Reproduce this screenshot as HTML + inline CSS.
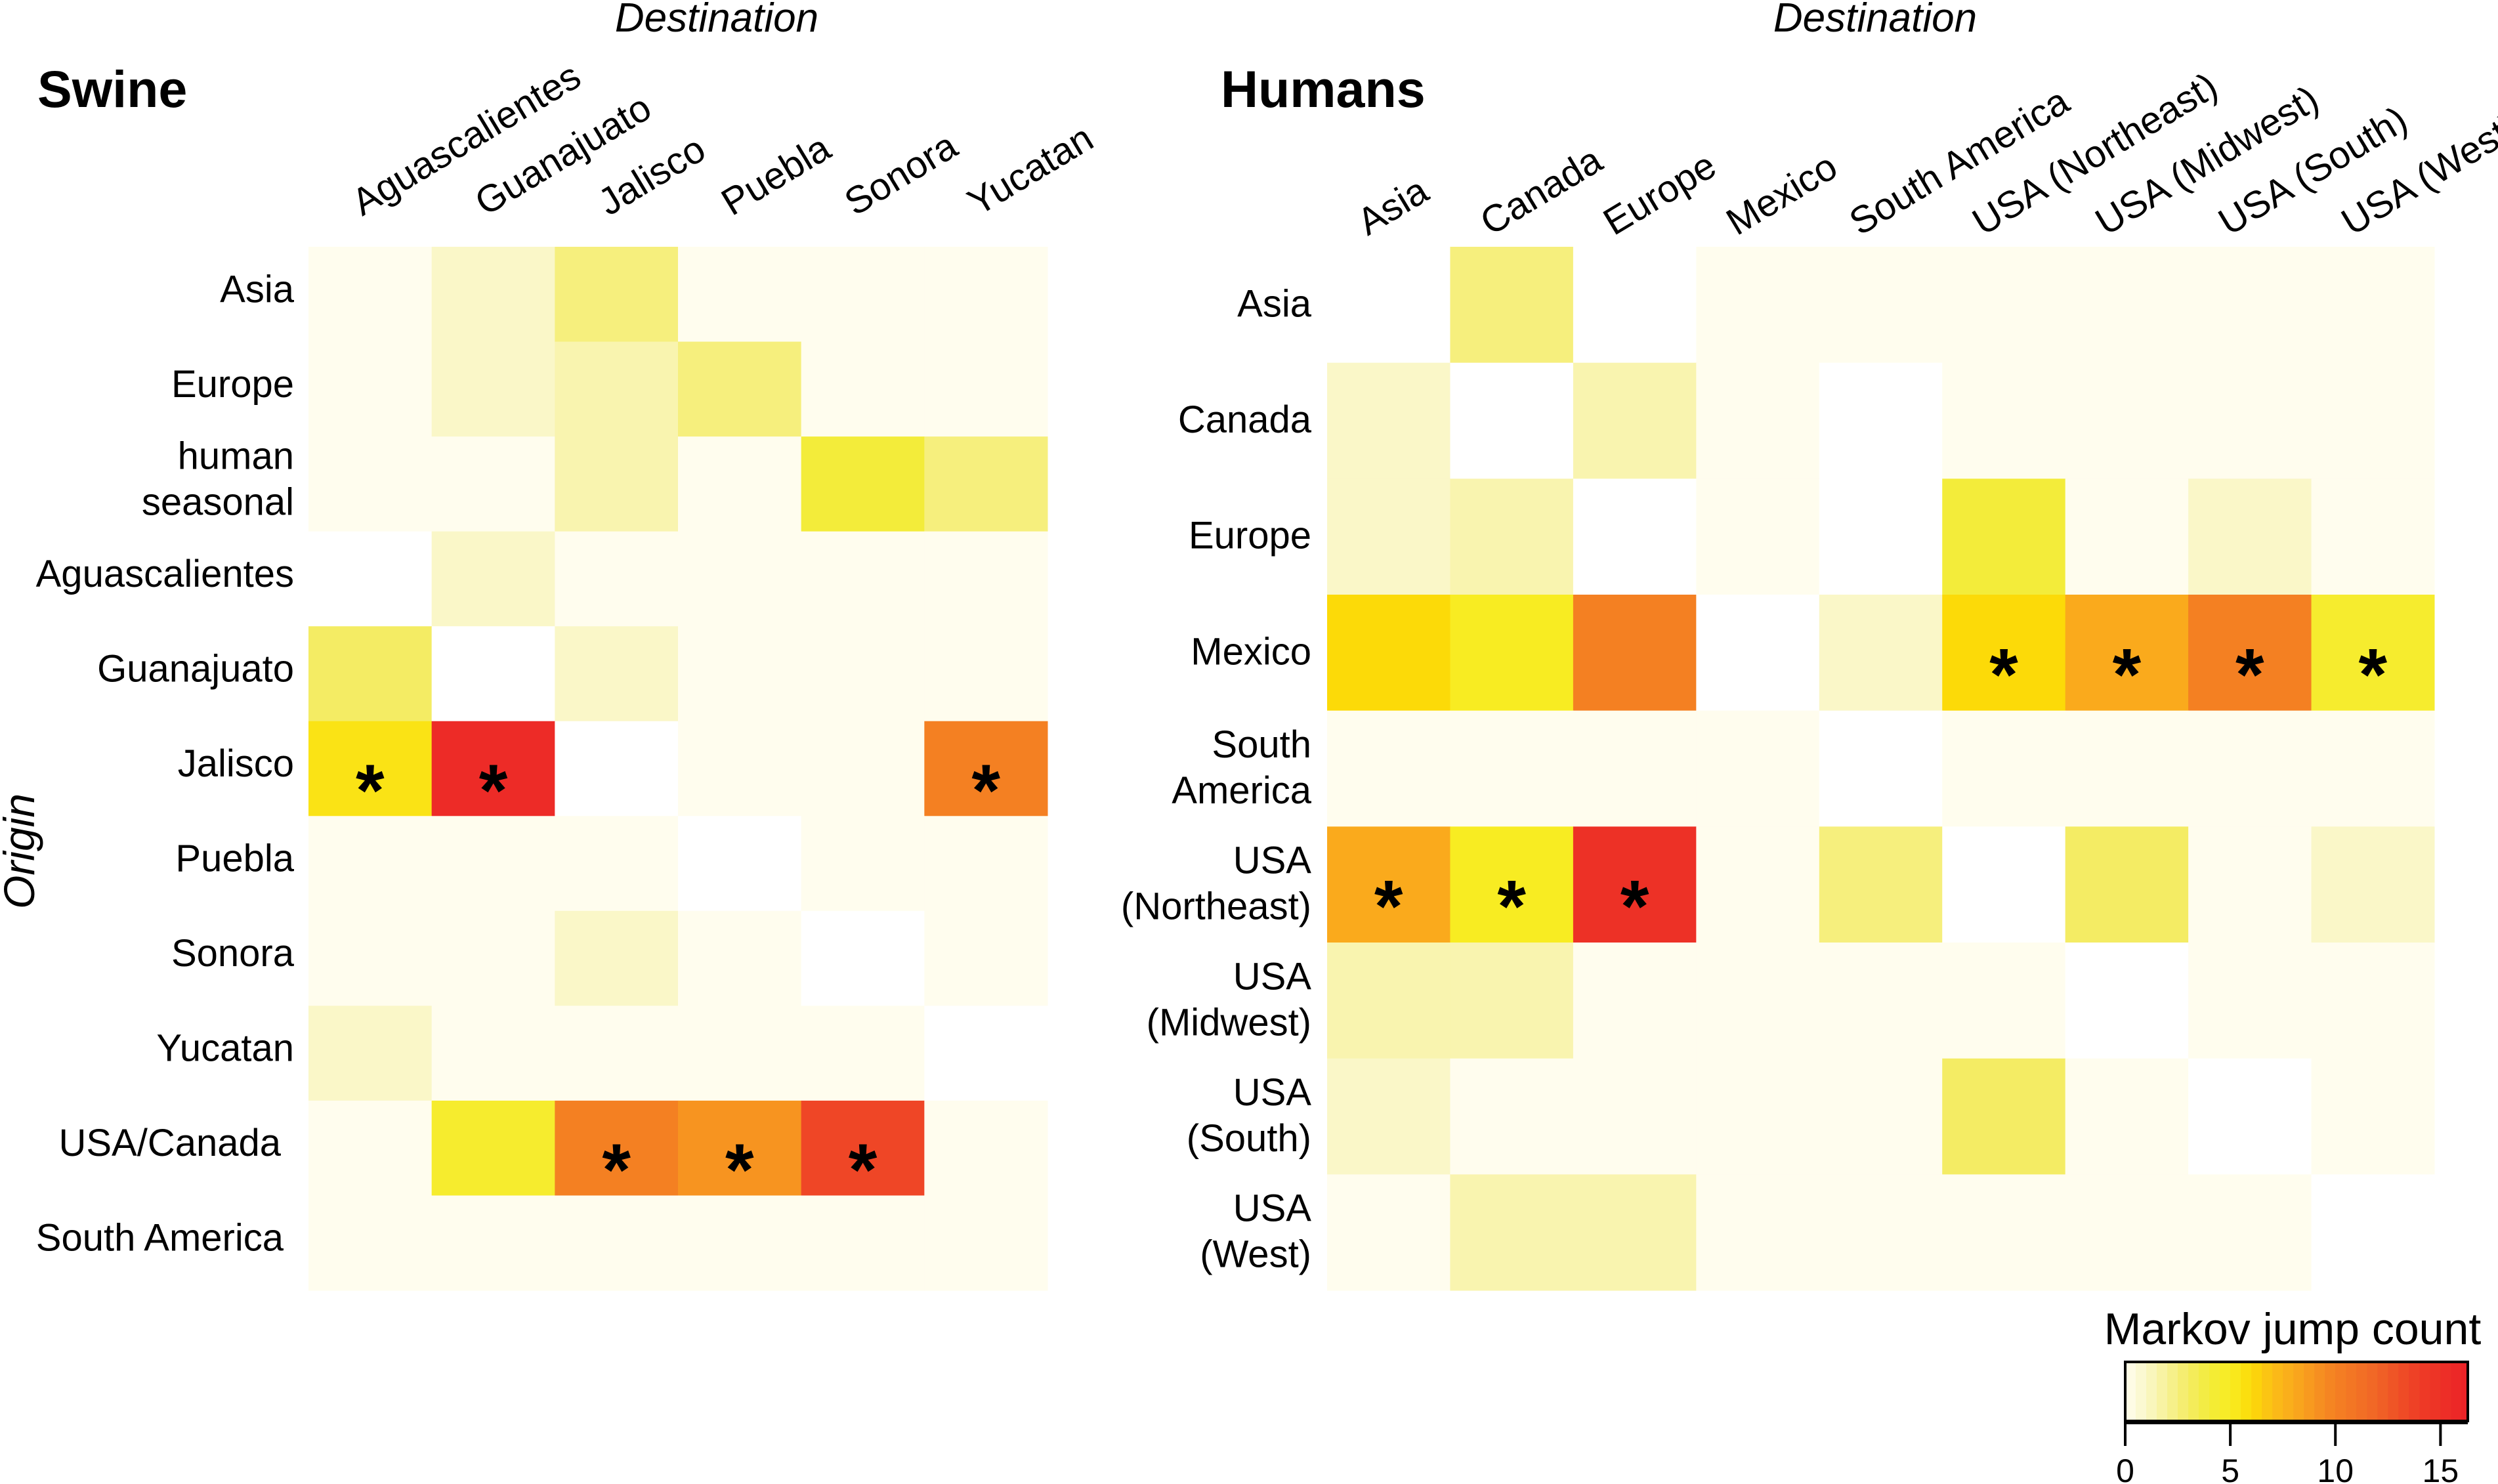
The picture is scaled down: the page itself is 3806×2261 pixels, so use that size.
<!DOCTYPE html>
<html><head><meta charset="utf-8"><style>
html,body{margin:0;padding:0;background:#fff}
svg{display:block;font-family:"Liberation Sans",Arial,sans-serif}
</style></head><body>
<svg id="chart" width="3806" height="2261" viewBox="0 0 3806 2261" xmlns="http://www.w3.org/2000/svg">
<rect width="3806" height="2261" fill="#fff"/>
<text x="57" y="163" font-size="79" font-weight="bold">Swine</text>
<text x="1860" y="163" font-size="79" font-weight="bold">Humans</text>
<text x="1092" y="48" font-size="62" font-style="italic" text-anchor="middle">Destination</text>
<text x="2857" y="48" font-size="62" font-style="italic" text-anchor="middle">Destination</text>
<text transform="translate(52,1297) rotate(-90)" font-size="66" font-style="italic" text-anchor="middle">Origin</text>
<g id="swine"></g><g id="humans"></g><g id="legend"></g>
</svg>
<script>
const swineCols = ["Aguascalientes","Guanajuato","Jalisco","Puebla","Sonora","Yucatan"];
const swineRows = [["Asia"],["Europe"],["human","seasonal"],["Aguascalientes"],["Guanajuato"],["Jalisco"],["Puebla"],["Sonora"],["Yucatan"],["USA/Canada"],["South America"]];
const swineVals = [
 [0,1,2.5,0,0,0],
 [0,1,1.5,2.5,0,0],
 [0,0,1.5,0,4,2.5],
 [null,1,0,0,0,0],
 [3,null,1,0,0,0],
 [5.5,15.5,null,0,0,10],
 [0,0,0,null,0,0],
 [0,0,1,0,null,0],
 [1,0,0,0,0,null],
 [0,4.5,10,9,13.5,0],
 [0,0,0,0,0,0]];
const swineSig = [[5,0],[5,1],[5,5],[9,2],[9,3],[9,4]];

const humanCols = ["Asia","Canada","Europe","Mexico","South America","USA (Northeast)","USA (Midwest)","USA (South)","USA (West)"];
const humanRows = [["Asia"],["Canada"],["Europe"],["Mexico"],["South","America"],["USA","(Northeast)"],["USA","(Midwest)"],["USA","(South)"],["USA","(West)"]];
const humanVals = [
 [null,2.5,null,0,0,0,0,0,0],
 [1,null,1.5,0,null,0,0,0,0],
 [1,1.5,null,0,null,4,0,1,0],
 [6,5,10,null,1,6,8,10,4.5],
 [0,0,0,0,null,0,0,0,0],
 [8,5,15,0,2.5,null,3,0,1],
 [1.5,1.5,0,0,0,0,null,0,0],
 [1,0,0,0,0,3,0,null,0],
 [0,1.5,1.5,0,0,0,0,0,null]];
const humanSig = [[3,5],[3,6],[3,7],[3,8],[5,0],[5,1],[5,2]];

const legendTicks = [0,5,10,15];
const legendMax = 16.3;

const stops = [[0,[255,253,238]],[1,[250,247,200]],[2,[247,241,150]],[3,[244,236,100]],[4,[243,236,58]],[5,[248,236,34]],[6,[252,218,8]],[7,[251,190,22]],[8,[250,170,28]],[9,[247,148,32]],[10,[244,128,34]],[12,[240,100,38]],[14,[238,60,38]],[16.3,[236,34,39]]];
function color(v){
  if(v===null) return "#ffffff";
  for(let i=1;i<stops.length;i++){
    if(v<=stops[i][0]){
      const a=stops[i-1],b=stops[i],t=(v-a[0])/(b[0]-a[0]);
      const c=a[1].map((x,k)=>Math.round(x+(b[1][k]-x)*t));
      return "rgb("+c.join(",")+")";
    }
  }
  return "rgb(236,34,39)";
}
const NS="http://www.w3.org/2000/svg";
function mk(tag,attrs,parent){const e=document.createElementNS(NS,tag);for(const k in attrs)e.setAttribute(k,attrs[k]);parent.appendChild(e);return e;}

function panel(g,cols,rows,vals,sig,x0,x1,y0,y1,labelRight,colBase,colShift,prefix,lineGap,labelDy,rightOverride){
  const cw=(x1-x0)/cols.length, rh=(y1-y0)/rows.length;
  const xs=i=>x0+i*cw, ys=j=>y0+j*rh;
  vals.forEach((row,j)=>row.forEach((v,i)=>{
    const r=mk("rect",{x:xs(i),y:ys(j),width:cw+0.5,height:rh+0.5,fill:color(v)},g);
    
    
  }));
  sig.forEach(([j,i])=>{
    const t=mk("text",{x:xs(i)+cw/2,y:ys(j)+rh/2+72,"font-size":112,"font-weight":"bold","text-anchor":"middle"},g);
    t.textContent="*";
    
    
  });
  cols.forEach((c,i)=>{
    const cx=xs(i)+cw/2+colShift;
    const t=mk("text",{x:cx,y:colBase,"font-size":58,transform:"rotate(-31 "+cx+" "+colBase+")"},g);
    t.textContent=c;
    
    
  });
  rows.forEach((lines,j)=>{
    const cy=ys(j)+rh/2;
    const rx=(rightOverride && rightOverride[j]) ? rightOverride[j] : labelRight;
    lines.forEach((ln,k)=>{
      const off=(k-(lines.length-1)/2)*lineGap;
      const t=mk("text",{x:rx,y:cy+off+labelDy,"font-size":58,"text-anchor":"end"},g);
      t.textContent=ln;
      
      
    });
  });
}
const swineRight = {9:428, 10:432};
panel(document.getElementById("swine"),swineCols,swineRows,swineVals,swineSig,470,1596,376,1966,448,330,-12,"swine",70,12,swineRight);
panel(document.getElementById("humans"),humanCols,humanRows,humanVals,humanSig,2022,3709,376,1966,1998,360,-32,"humans",70,18,null);

// legend
const lg=document.getElementById("legend");
const bx0=3238,bx1=3760,by0=2075,by1=2165;
const lx=v=>bx0+(v/legendMax)*(bx1-bx0);
const t0=mk("text",{x:3493,y:2048,"font-size":68,"text-anchor":"middle"},lg);
t0.textContent="Markov jump count";


for(let v=0; v<legendMax; v+=0.5){
  const r=mk("rect",{x:lx(v),y:by0,width:lx(Math.min(v+0.5,legendMax))-lx(v)+0.6,height:by1-by0,fill:color(v+0.25)},lg);
  
  
}
const fr=mk("rect",{x:bx0,y:by0,width:bx1-bx0,height:by1-by0,fill:"none",stroke:"#000","stroke-width":4},lg);


const ax=mk("line",{x1:lx(0),x2:bx1,y1:by1+2,y2:by1+2,stroke:"#000","stroke-width":6},lg);


legendTicks.forEach(v=>{
  const l=mk("line",{x1:lx(v),x2:lx(v),y1:by1,y2:by1+38,stroke:"#000","stroke-width":4},lg);
  
  
  const t=mk("text",{x:lx(v),y:2258,"font-size":50,"text-anchor":"middle"},lg);
  t.textContent=String(v);
  
  
});
</script>
</body></html>
